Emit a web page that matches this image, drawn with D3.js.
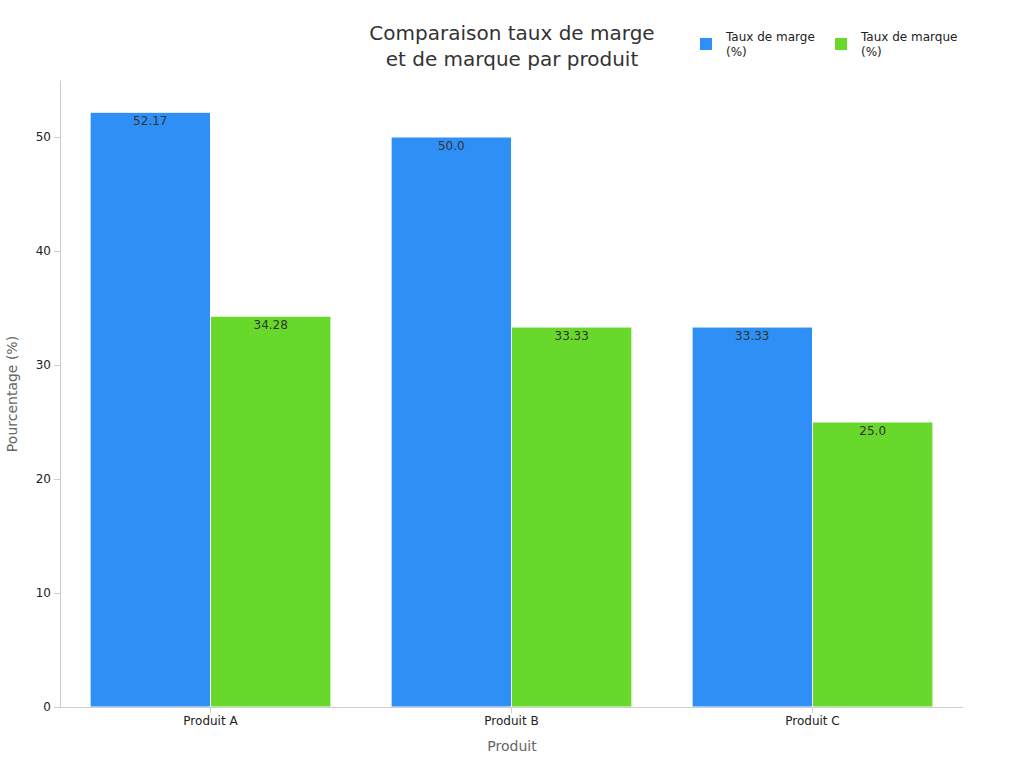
<!DOCTYPE html>
<html><head><meta charset="utf-8">
<script src="https://cdn.jsdelivr.net/npm/d3@7"></script>
<style>body{margin:0;background:#fff;font-family:"DejaVu Sans",sans-serif}</style>
</head><body><svg id="c" width="1024" height="768"></svg>
<script>
const categories = ["Produit A","Produit B","Produit C"];
const seriesNames = ["Taux de marge\n(%)","Taux de marque\n(%)"];
const marge = [52.17, 50.0, 33.33];
const marque = [34.28, 33.33, 25.0];
const marqueLabels = ["34.28","33.33","25.0"];
const margeLabels = ["52.17","50.0","33.33"];
const yTicks = [0,10,20,30,40,50];
const colors = ["#2E90F6","#68D92A"];

const svg = d3.select("#c");
const L=60,R=963,T=80,B=707;
const x = d3.scaleBand().domain(categories).range([L,R]).paddingInner(0.2).paddingOuter(0.1);
const xs = d3.scaleBand().domain([0,1]).range([0,x.bandwidth()]);
const y = d3.scaleLinear().domain([0,55]).range([B,T]);

const series=[marge,marque], labels=[margeLabels,marqueLabels];
series.forEach((s,si)=>{
  svg.selectAll(null).data(s).enter().append("rect")
    .attr("x",(d,i)=>x(categories[i])+xs(si)).attr("y",d=>y(d))
    .attr("width",xs.bandwidth()).attr("height",d=>B-y(d))
    .attr("fill",colors[si]).attr("stroke","#fff").attr("stroke-width",1);
  svg.selectAll(null).data(s).enter().append("text")
    .attr("x",(d,i)=>x(categories[i])+xs(si)+xs.bandwidth()/2).attr("y",d=>y(d)+13)
    .attr("text-anchor","middle").attr("font-size",12).attr("fill","#333")
    .text((d,i)=>labels[si][i]);
});

const gx=svg.append("g").attr("transform",`translate(0,${B})`).call(d3.axisBottom(x).tickSizeOuter(0));
const gy=svg.append("g").attr("transform",`translate(${L},0)`).call(d3.axisLeft(y).tickValues(yTicks).tickSizeOuter(0));
[gx,gy].forEach(g=>{g.selectAll("path,line").attr("stroke","#ccc");g.selectAll("text").attr("font-size",12).attr("fill","#222").attr("font-family","DejaVu Sans");});
gx.select(".domain").attr("d",`M${L},0.5H${R}`);

svg.append("text").attr("x",512).attr("y",751).attr("text-anchor","middle").attr("font-size",14).attr("fill","#666").text("Produit");
svg.append("text").attr("transform","translate(17,394) rotate(-90)").attr("text-anchor","middle").attr("font-size",14).attr("fill","#666").text("Pourcentage (%)");
const t=svg.append("text").attr("text-anchor","middle").attr("font-size",20).attr("fill","#333");
t.append("tspan").attr("x",512).attr("y",40).text("Comparaison taux de marge");
t.append("tspan").attr("x",512).attr("y",66).text("et de marque par produit");

const lg=[700,835];
seriesNames.forEach((n,i)=>{
  svg.append("rect").attr("x",lg[i]).attr("y",38).attr("width",12).attr("height",12).attr("fill",colors[i]);
  const tx=svg.append("text").attr("font-size",12).attr("fill","#222");
  n.split("\n").forEach((p,j)=>tx.append("tspan").attr("x",lg[i]+26).attr("y",41+j*15).text(p));
});
</script></body></html>
